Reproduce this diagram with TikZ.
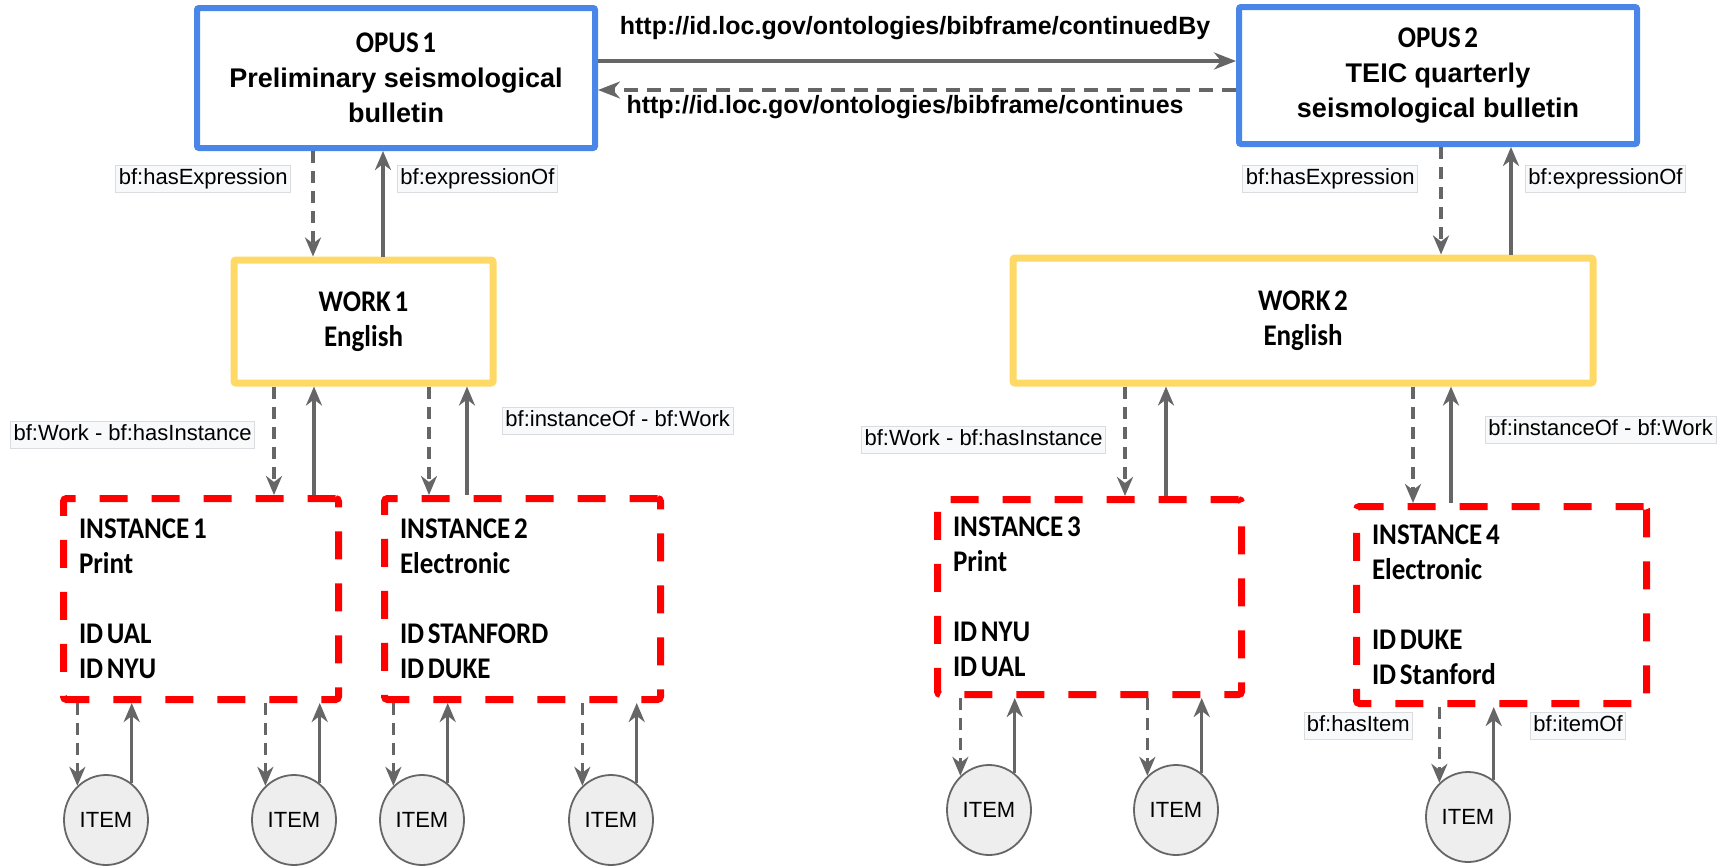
\documentclass[tikz,border=0pt]{standalone}
\usepackage{fontspec}
\setmainfont{Liberation Sans}
\newfontfamily\carl[FakeStretch=0.9,WordSpace=0.6]{Carlito}
\usetikzlibrary{arrows.meta,shapes.geometric}
\definecolor{blueb}{HTML}{4A86E8}
\definecolor{yelb}{HTML}{FFD966}
\definecolor{redb}{HTML}{FF0000}
\definecolor{arrg}{HTML}{666666}
\definecolor{itemfill}{HTML}{EEEEEE}
\definecolor{labfill}{HTML}{F8F9FA}
\definecolor{labdraw}{HTML}{DADCE0}
\begin{document}
\begin{tikzpicture}[x=1pt,y=-1pt,
  opusbox/.style={draw=blueb, line width=6pt, rounded corners=2pt, minimum width=398pt, minimum height=140pt, align=center, font=\bfseries\fontsize{27}{35}\selectfont, inner sep=0pt},
  workbox/.style={draw=yelb, line width=7pt, rounded corners=2pt, align=center, font=\carl\bfseries\fontsize{30}{35}\selectfont, inner sep=0pt},
  instbox/.style={draw=redb, line width=7pt, dash pattern=on 28pt off 24pt, rounded corners=3pt, align=flush left, inner xsep=15.5pt, inner ysep=0pt, font=\carl\bfseries\fontsize{30}{35}\selectfont},
  itemnode/.style={ellipse, draw=arrg, line width=1.8pt, fill=itemfill, minimum width=84pt, minimum height=90pt, inner sep=0pt, font=\fontsize{22}{26}\selectfont},
  lab/.style={fill=labfill, draw=labdraw, line width=0.8pt, inner xsep=3pt, inner ysep=3.5pt, text height=16pt, text depth=4.5pt, font=\fontsize{22}{26}\selectfont},
  linklab/.style={font=\bfseries\fontsize{25}{30}\selectfont, inner sep=0pt},
  solidarr/.style={draw=arrg, line width=3.2pt, -{Stealth[length=19pt,width=16pt,inset=6pt]}},
  dasharr/.style={draw=arrg, line width=3.2pt, dash pattern=on 12pt off 8pt, -{Stealth[length=19pt,width=16pt,inset=6pt]}},
  bigsolid/.style={draw=arrg, line width=3.2pt, -{Stealth[length=22pt,width=17pt,inset=7pt]}},
  bigdash/.style={draw=arrg, line width=3.2pt, dash pattern=on 14pt off 9pt, -{Stealth[length=22pt,width=17pt,inset=7pt]}},
]
\fill[white] (0,0) rectangle (1729,865);
\useasboundingbox (0,0) rectangle (1729,865);

% top level boxes
\node[opusbox] (opus1) at (396,78) {{\carl\fontsize{30}{35}\selectfont OPUS 1}\\Preliminary seismological\\bulletin};
\node[opusbox, minimum height=137pt] (opus2) at (1438,75.5) {{\carl\fontsize{30}{35}\selectfont OPUS 2}\\TEIC quarterly\\seismological bulletin};

\node[workbox, minimum width=259pt, minimum height=123pt] (work1) at (363.5,321.5) {WORK 1\\English};
\node[workbox, minimum width=580pt, minimum height=125pt] (work2) at (1303,320.5) {WORK 2\\English};

\node[instbox, text width=244pt, minimum height=201pt] (inst1) at (201,599) {INSTANCE 1\\Print\\[35pt]ID UAL\\ID NYU};
\node[instbox, text width=245pt, minimum height=201pt] (inst2) at (522.5,599) {INSTANCE 2\\Electronic\\[35pt]ID STANFORD\\ID DUKE};
\node[instbox, text width=273pt, minimum height=195pt] (inst3) at (1089.5,597) {INSTANCE 3\\Print\\[35pt]ID NYU\\ID UAL};
\node[instbox, text width=259pt, minimum height=197pt] (inst4) at (1501.5,605) {INSTANCE 4\\Electronic\\[35pt]ID DUKE\\ID Stanford};

% items
\node[itemnode] (item1) at (106,820) {ITEM};
\node[itemnode] (item2) at (294,820) {ITEM};
\node[itemnode] (item3) at (422,820) {ITEM};
\node[itemnode] (item4) at (611,820) {ITEM};
\node[itemnode] (item5) at (989,810) {ITEM};
\node[itemnode] (item6) at (1176,810) {ITEM};
\node[itemnode] (item7) at (1468,817) {ITEM};

% opus links
\coordinate (c1) at ([yshift=17pt]opus1.east);
\coordinate (c2) at ([yshift=-14.5pt]opus2.west);
\draw[bigsolid] (c1) -- (c1 -| opus2.west);
\draw[bigdash] (c2) -- (c2 -| opus1.east);
\node[linklab] (lcb) at (915,28) {http://id.loc.gov/ontologies/bibframe/continuedBy};
\node[linklab] (lco) at (905,107) {http://id.loc.gov/ontologies/bibframe/continues};

% opus <-> work
\draw[dasharr] ([xshift=-83pt]opus1.south) -- ([xshift=-50.5pt]work1.north);
\draw[solidarr] ([xshift=19.5pt]work1.north) -- ([xshift=-13pt]opus1.south);
\draw[dasharr] ([xshift=3pt]opus2.south) -- ([xshift=138pt]work2.north);
\draw[solidarr] ([xshift=208pt]work2.north) -- ([xshift=73pt]opus2.south);

% work <-> instance
\draw[dasharr] ([xshift=-89.5pt]work1.south) -- ([xshift=73pt]inst1.north);
\draw[solidarr] ([xshift=113pt]inst1.north) -- ([xshift=-49.5pt]work1.south);
\draw[dasharr] ([xshift=65.5pt]work1.south) -- ([xshift=-93.5pt]inst2.north);
\draw[solidarr] ([xshift=-55.5pt]inst2.north) -- ([xshift=103.5pt]work1.south);
\draw[dasharr] ([xshift=-178pt]work2.south) -- ([xshift=35.5pt]inst3.north);
\draw[solidarr] ([xshift=76.5pt]inst3.north) -- ([xshift=-137pt]work2.south);
\draw[dasharr] ([xshift=110pt]work2.south) -- ([xshift=-88.5pt]inst4.north);
\draw[solidarr] ([xshift=-50.5pt]inst4.north) -- ([xshift=148pt]work2.south);

% instance <-> item
\foreach \i/\it in {inst1/item1, inst1/item2, inst2/item3, inst2/item4, inst3/item5, inst3/item6, inst4/item7}{
  \draw[dasharr] (\i.south -| \it.130) -- (\it.130);
  \draw[solidarr] (\it.55) -- (\i.south -| \it.55);
}

% labels
\node[lab, anchor=east] (l1) at (291,179) {bf:hasExpression};
\node[lab, anchor=west] (l2) at (397,179) {bf:expressionOf};
\node[lab, anchor=east] (l3) at (1418,179) {bf:hasExpression};
\node[lab, anchor=west] (l4) at (1525,179) {bf:expressionOf};
\node[lab, anchor=east] (l5) at (255,435) {bf:Work - bf:hasInstance};
\node[lab, anchor=west] (l6) at (502,421) {bf:instanceOf - bf:Work};
\node[lab, anchor=east] (l7) at (1106,440) {bf:Work - bf:hasInstance};
\node[lab, anchor=west] (l8) at (1485,430) {bf:instanceOf - bf:Work};
\node[lab, anchor=east] (l9) at (1413,726) {bf:hasItem};
\node[lab, anchor=west] (l10) at (1530,726) {bf:itemOf};
\end{tikzpicture}
\end{document}
